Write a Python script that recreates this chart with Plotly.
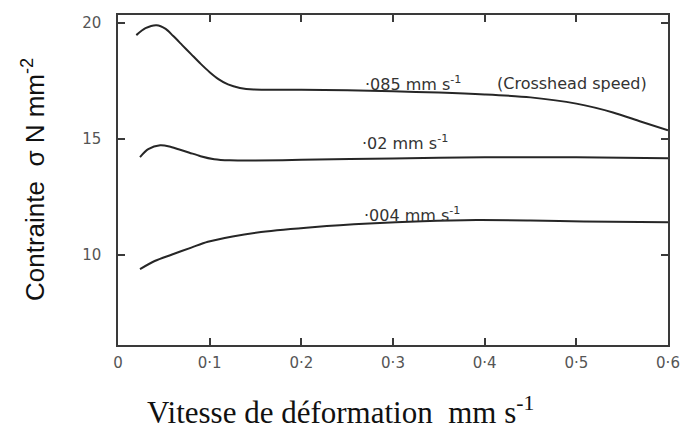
import plotly.graph_objects as go

# Strain-rate (mm/s) vs stress (N/mm^2) for three crosshead speeds
x_085 = [0.020, 0.030, 0.042, 0.052, 0.060, 0.070, 0.080, 0.090, 0.100, 0.110,
         0.120, 0.133, 0.148, 0.200, 0.250, 0.300, 0.350, 0.400, 0.450, 0.500,
         0.540, 0.570, 0.600]
y_085 = [19.48, 19.78, 19.91, 19.75, 19.45, 19.05, 18.65, 18.25, 17.88, 17.57,
         17.35, 17.20, 17.13, 17.12, 17.10, 17.05, 17.00, 16.92, 16.79, 16.52,
         16.14, 15.75, 15.37]

x_02 = [0.024, 0.033, 0.046, 0.056, 0.066, 0.078, 0.090, 0.105, 0.122, 0.150,
        0.200, 0.300, 0.400, 0.500, 0.600]
y_02 = [14.21, 14.55, 14.72, 14.67, 14.55, 14.40, 14.25, 14.12, 14.07, 14.06,
        14.09, 14.15, 14.20, 14.20, 14.16]

x_004 = [0.024, 0.040, 0.059, 0.080, 0.098, 0.125, 0.156, 0.215, 0.274, 0.332,
         0.391, 0.450, 0.508, 0.600]
y_004 = [9.37, 9.72, 10.00, 10.30, 10.55, 10.78, 10.97, 11.19, 11.34, 11.44,
         11.49, 11.47, 11.43, 11.39]

x_ticks = [0, 0.1, 0.2, 0.3, 0.4, 0.5, 0.6]
x_tick_text = ["0", "0·1", "0·2", "0·3", "0·4", "0·5", "0·6"]
y_ticks = [10, 15, 20]
y_tick_text = ["10", "15", "20"]

line_col = "#262626"
axis_col = "#3a3a3a"
label_font = dict(family="DejaVu Sans", size=16, color="#333333")
tick_font = dict(family="DejaVu Sans", size=15, color="#555555")

fig = go.Figure()
for xs, ys in [(x_085, y_085), (x_02, y_02), (x_004, y_004)]:
    fig.add_trace(go.Scatter(x=xs, y=ys, mode="lines",
                             line=dict(color=line_col, width=2, shape="spline", smoothing=0.8),
                             showlegend=False, hoverinfo="skip"))

# curve labels
curve_labels = [
    (0.267, 17.41, "·085 mm s<sup>-1</sup>"),
    (0.411, 17.38, "(Crosshead speed)"),
    (0.264, 14.86, "·02 mm s<sup>-1</sup>"),
    (0.266, 11.75, "·004 mm s<sup>-1</sup>"),
]
for lx, ly, txt in curve_labels:
    fig.add_annotation(x=lx, y=ly, xref="x", yref="y", text=txt, showarrow=False,
                       xanchor="left", yanchor="middle", font=label_font)

# axis titles
fig.add_annotation(x=0.404, y=-0.197, xref="paper", yref="paper",
                   text="Vitesse de déformation&nbsp;&nbsp;mm s<sup>-1</sup>",
                   showarrow=False, xanchor="center", yanchor="middle",
                   font=dict(family="Liberation Serif", size=31, color="#111111"))
fig.add_annotation(x=-0.1545, y=0.5, xref="paper", yref="paper",
                   text="Contrainte&nbsp;&nbsp;σ N mm<sup>-2</sup>",
                   showarrow=False, xanchor="center", yanchor="middle", textangle=-90,
                   font=dict(family="Liberation Sans", size=26, color="#111111"))

fig.update_xaxes(range=[0, 0.6], tickvals=x_ticks, ticktext=x_tick_text,
                 ticks="inside", ticklen=7, tickwidth=1.5, tickcolor=axis_col,
                 showline=True, linecolor=axis_col, linewidth=1.5, mirror="ticks",
                 showgrid=False, zeroline=False, ticklabelstandoff=3,
                 automargin=False, tickfont=tick_font)
fig.update_yaxes(range=[6.09, 20.35], tickvals=y_ticks, ticktext=y_tick_text,
                 ticks="inside", ticklen=7, tickwidth=1.5, tickcolor=axis_col,
                 showline=True, linecolor=axis_col, linewidth=1.5, mirror="ticks",
                 showgrid=False, zeroline=False, ticklabelstandoff=12,
                 automargin=False, tickfont=tick_font)

fig.update_layout(width=681, height=433, margin=dict(l=118, r=13, t=15, b=88),
                  plot_bgcolor="white", paper_bgcolor="white")

fig.write_html("out.html")
